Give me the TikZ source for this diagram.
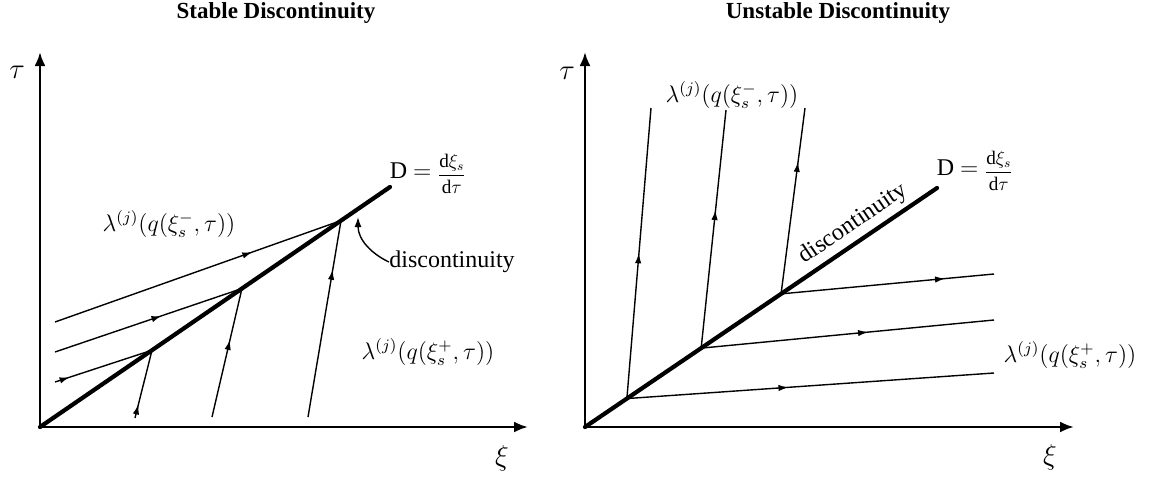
\documentclass[tikz,border=0pt]{standalone}
\usepackage{fontspec}
\setmainfont{Liberation Serif}
\usetikzlibrary{arrows.meta,decorations.markings,calc}
\tikzset{
  axis/.style={line width=1.3pt,-{Latex[length=7pt,width=5.5pt]}},
  disc/.style={line width=2.1pt,line cap=round},
  charline/.style={line width=0.7pt},
  midarrow/.style={postaction={decorate},decoration={markings,
    mark=at position #1 with {\arrow{Latex[length=5pt,width=3.2pt]}}}},
  lbl/.style={inner sep=0pt,font=\fontsize{12}{14}\selectfont},
  axlbl/.style={inner sep=0pt,font=\fontsize{14}{16}\selectfont},
  ttl/.style={inner sep=0pt,font=\fontsize{11.5}{13}\selectfont\bfseries}
}
\newcommand{\Dfrac}{D $=$ \raisebox{-0.2ex}{\scalebox{0.8}{$\displaystyle\frac{\mathrm{d}\xi_s}{\mathrm{d}\tau}$}}}
\begin{document}
\begin{tikzpicture}[x=0.5pt,y=-0.5pt]
\useasboundingbox (0,0) rectangle (1151,477);
% ---------------- left panel ----------------
\node[ttl] (t1) at (276,13) {Stable Discontinuity};
\coordinate (O1) at (40,427);
\coordinate (Y1) at (40,52);
\coordinate (X1) at (528,427);
\coordinate (E1) at (390,187);
\draw[axis] (O1) -- (Y1);
\draw[axis] (O1) -- (X1);
\node[axlbl] (tau1) at (17,72) {$\tau$};
\node[axlbl] (xi1) at (502,458) {$\xi$};
\draw[disc] (O1) -- (E1);
\coordinate (P1) at ($(O1)!0.32!(E1)$);
\coordinate (P2) at ($(O1)!0.577!(E1)$);
\coordinate (P3) at ($(O1)!0.86!(E1)$);
\coordinate (S1) at (55,382);
\coordinate (S2) at (55,352);
\coordinate (S3) at (55,322);
\coordinate (A1) at (135,418);
\coordinate (B1) at (212,417);
\coordinate (C1) at (308,417);
\draw[charline,midarrow=0.15] (S1) -- (P1);
\draw[charline,midarrow=0.57] (S2) -- (P2);
\draw[charline,midarrow=0.69] (S3) -- (P3);
\draw[charline,midarrow=0.2] (A1) -- (P1);
\draw[charline,midarrow=0.6] (B1) -- (P2);
\draw[charline,midarrow=0.75] (C1) -- (P3);
\node[lbl] (lm1) at (169,224) {$\lambda^{(j)}(q(\xi_s^-,\tau))$};
\node[lbl] (lp1) at (428,352) {$\lambda^{(j)}(q(\xi_s^+,\tau))$};
\node[lbl] (D1) at (428,174) {\Dfrac};
\node[lbl] (dl1) at (452,262) {discontinuity};
\coordinate (tip1) at (358,217);
\draw[line width=0.7pt,-{Latex[length=5pt,width=3.5pt]}] (dl1.west) .. controls (372,254) and (358,240) .. (tip1);
% ---------------- right panel ----------------
\node[ttl] (t2) at (838,13) {Unstable Discontinuity};
\coordinate (O2) at (585,427);
\coordinate (Y2) at (585,52);
\coordinate (X2) at (1074,427);
\coordinate (E2) at (937,188);
\draw[axis] (O2) -- (Y2);
\draw[axis] (O2) -- (X2);
\node[axlbl] (tau2) at (567,73) {$\tau$};
\node[axlbl] (xi2) at (1050,457) {$\xi$};
\draw[disc] (O2) -- (E2);
\coordinate (Q1) at ($(O2)!0.119!(E2)$);
\coordinate (Q2) at ($(O2)!0.330!(E2)$);
\coordinate (Q3) at ($(O2)!0.557!(E2)$);
\coordinate (U1) at (651,108);
\coordinate (U2) at (726,110);
\coordinate (U3) at (805,108);
\coordinate (R1) at (994,373);
\coordinate (R2) at (994,320);
\coordinate (R3) at (994,274);
\draw[charline,midarrow=0.5] (Q1) -- (U1);
\draw[charline,midarrow=0.58] (Q2) -- (U2);
\draw[charline,midarrow=0.71] (Q3) -- (U3);
\draw[charline,midarrow=0.44] (Q1) -- (R1);
\draw[charline,midarrow=0.57] (Q2) -- (R2);
\draw[charline,midarrow=0.77] (Q3) -- (R3);
\node[lbl] (lm2) at (732,95) {$\lambda^{(j)}(q(\xi_s^-,\tau))$};
\node[lbl] (lp2) at (1070,355) {$\lambda^{(j)}(q(\xi_s^+,\tau))$};
\node[lbl] (D2) at (975,171) {\Dfrac};
\path (O2) -- (E2) node[lbl,pos=0.79,sloped,above=3pt] (dl2) {discontinuity};
\end{tikzpicture}
\end{document}
